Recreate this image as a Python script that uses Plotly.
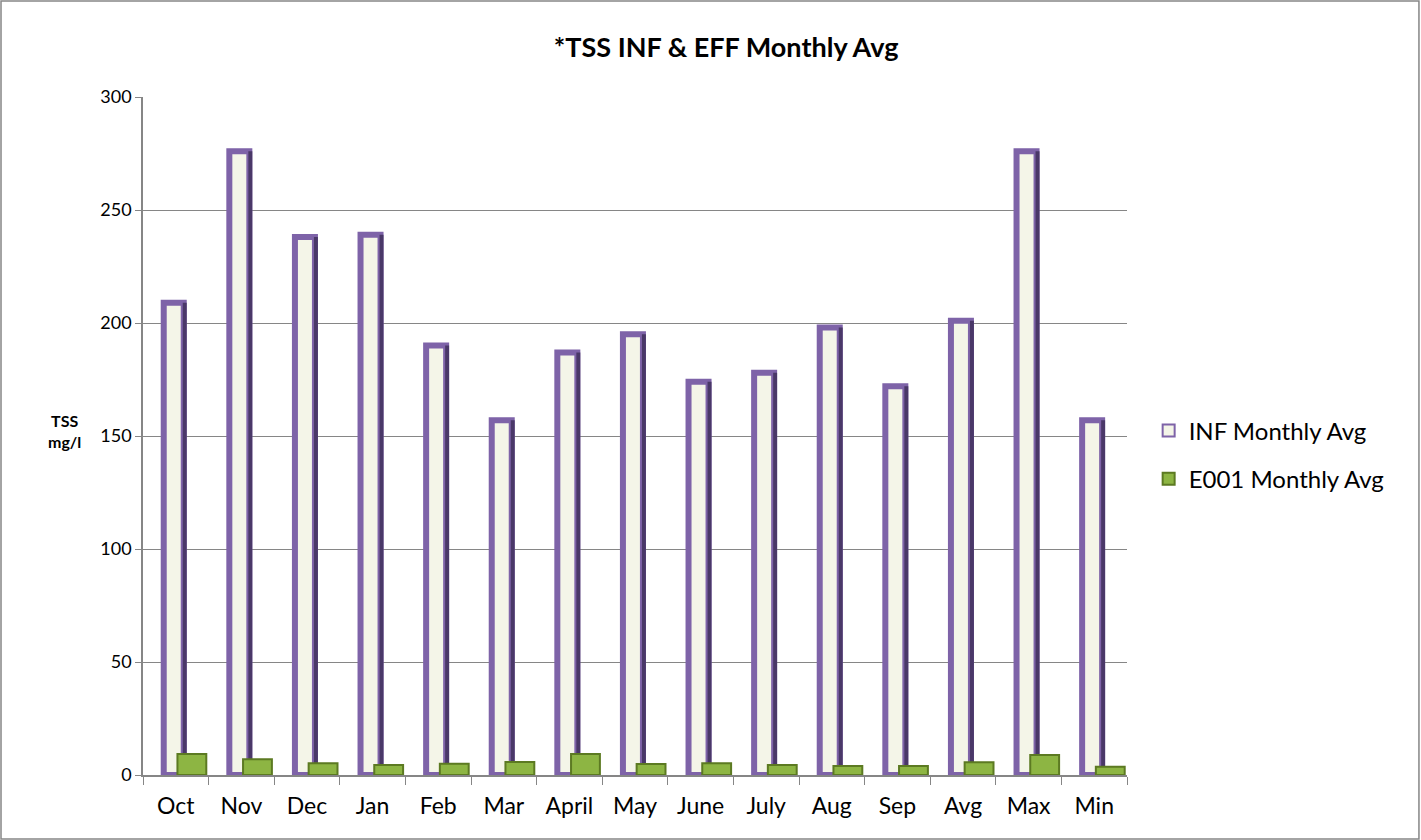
import plotly.graph_objects as go

categories = ["Oct", "Nov", "Dec", "Jan", "Feb", "Mar", "April", "May", "June",
              "July", "Aug", "Sep", "Avg", "Max", "Min"]
inf_avg = [209, 276, 238, 239, 190, 157, 187, 195, 174, 178, 198, 172, 201, 276, 157]
e001_avg = [9.3, 7.0, 5.2, 4.4, 5.0, 5.8, 9.3, 4.9, 5.2, 4.4, 4.0, 4.0, 5.6, 8.8, 3.7]

FONT = "Lato, Carlito, Calibri, sans-serif"
GRAY = "#868686"

fig = go.Figure()

# INF bars: purple frame with cream centre
fig.add_trace(go.Bar(
    x=categories, y=inf_avg, name="INF Monthly Avg", legendgroup="inf",
    width=0.305, offset=-0.184,
    marker=dict(color="#F4F5E8", line=dict(color="#7E63A8", width=6)),
))
# dark right edge of INF bars (shading)
fig.add_trace(go.Bar(
    x=categories, y=inf_avg, name="INF shade", showlegend=False, hoverinfo="skip",
    width=0.06, offset=0.106, legendgroup="inf",
    marker=dict(color="#4A3868", line=dict(width=0)),
))
# E001 bars
fig.add_trace(go.Bar(
    x=categories, y=e001_avg, name="E001 Monthly Avg", legendgroup="eff",
    width=0.44, offset=0.025,
    marker=dict(color="#8DB543", line=dict(color="#5C7A22", width=2)),
))

fig.update_layout(
    barmode="overlay",
    width=1421, height=840,
    margin=dict(l=143, r=294, t=97, b=65),
    paper_bgcolor="white", plot_bgcolor="white",
    font=dict(family=FONT, color="black"),
    title=dict(text="<b>*TSS INF & EFF Monthly Avg</b>", x=0.511, xanchor="center",
               y=0.943, yanchor="middle", font=dict(size=27, family=FONT)),
    legend=dict(x=1.022, y=0.472, xanchor="left", yanchor="middle",
                font=dict(size=24, family=FONT), tracegroupgap=14,
                traceorder="grouped",
                itemsizing="constant", bgcolor="rgba(0,0,0,0)"),
    showlegend=True,
)

fig.update_xaxes(
    showline=True, linecolor=GRAY, linewidth=1.5,
    ticks="outside", ticklen=8, tickcolor=GRAY, tickson="boundaries",
    ticklabelstandoff=10,
    tickfont=dict(size=23, family=FONT), showgrid=False,
)
fig.update_yaxes(
    range=[0, 300], dtick=50, showline=True, linecolor=GRAY, linewidth=1.5,
    ticks="outside", ticklen=6, tickcolor=GRAY,
    showgrid=True, gridcolor=GRAY, gridwidth=1.2,
    tickfont=dict(size=18, family=FONT), zeroline=False,
)

fig.add_annotation(text="<b>TSS<br>mg/l</b>", xref="paper", yref="paper",
                   x=-0.080, y=0.508, xanchor="center", yanchor="middle",
                   showarrow=False, font=dict(size=16, family=FONT), align="center")

# outer chart border
fig.add_shape(type="rect", xref="paper", yref="paper",
              x0=-0.1443, x1=1.2967, y0=-0.0944, y1=1.1416,
              line=dict(color=GRAY, width=1.5), layer="below")

fig.write_html("out.html", config={"displayModeBar": False},
               post_script="document.body.style.margin='0px';")
